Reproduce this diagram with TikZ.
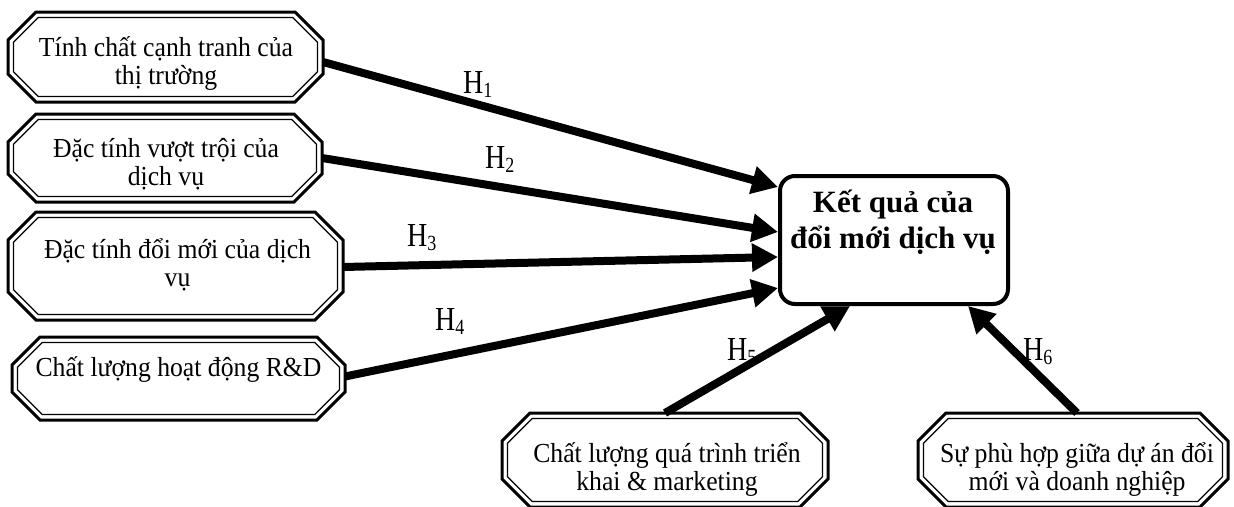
\documentclass[tikz,border=0pt]{standalone}
\usepackage{fontspec}
\setmainfont{Liberation Serif}
\usepackage{graphicx}
\usetikzlibrary{calc,arrows.meta}

% #1 node, #2 inset, #3 cut, #4 style
\newcommand\octagon[4]{%
  \draw[#4] ($(#1.north west)+(#2+#3,#2)$) -- ($(#1.north east)+(-#2-#3,#2)$)
    -- ($(#1.north east)+(-#2,#2+#3)$) -- ($(#1.south east)+(-#2,-#2-#3)$)
    -- ($(#1.south east)+(-#2-#3,-#2)$) -- ($(#1.south west)+(#2+#3,-#2)$)
    -- ($(#1.south west)+(#2,-#2-#3)$) -- ($(#1.north west)+(#2,#2+#3)$) -- cycle;}
\newcommand\Hlab[1]{\scalebox{1}[1.2]{\fontsize{28}{30}\selectfont H\raisebox{-4pt}{\fontsize{18}{20}\selectfont #1}}}
\newcommand\txtlines[1]{\scalebox{1}[1.07]{\begin{tabular}{@{}c@{}}#1\end{tabular}}}
\newcommand\boldlines[1]{\begin{tabular}{@{}c@{}}#1\end{tabular}}

\tikzset{
  boxarea/.style={rectangle, inner sep=0pt, outer sep=0pt},
  boxtext/.style={inner sep=0pt, font=\fontsize{25.7}{26.2}\selectfont},
  octout/.style={line width=3pt},
  octin/.style={line width=1.3pt},
  result/.style={rectangle, draw, line width=4pt, rounded corners=15pt, inner sep=0pt},
  restext/.style={inner sep=0pt, font=\bfseries\fontsize{31}{36}\selectfont},
  hlab/.style={inner sep=0pt, anchor=base west},
  arr/.style={line width=8pt, -{Triangle[length=26pt,width=27pt]}}
}

\begin{document}
\begin{tikzpicture}[x=1pt,y=-1pt]
\useasboundingbox (0,0) rectangle (1234,506);
\fill[white] (0,0) rectangle (1234,506);
\clip (0,0) rectangle (1234,506);

% box areas
\node[boxarea, minimum width=315pt, minimum height=90pt] (b1) at (165.5,57) {};
\node[boxarea, minimum width=314pt, minimum height=88pt] (b2) at (165,158) {};
\node[boxarea, minimum width=335pt, minimum height=108pt] (b3) at (175.5,266) {};
\node[boxarea, minimum width=333pt, minimum height=83pt] (b4) at (178.5,378.5) {};
\node[boxarea, minimum width=326pt, minimum height=94pt] (b5) at (665,460) {};
\node[boxarea, minimum width=310pt, minimum height=94pt] (b6) at (1073,460) {};

\foreach \n in {b1,b2,b3,b4,b5,b6}{
  \octagon{\n}{0}{28}{octout}
  \octagon{\n}{5.5}{24.8}{octin}
}

% texts
\node[boxtext] (t1) at (166,65) {\txtlines{Tính chất cạnh tranh của\\thị trường}};
\node[boxtext] (t2) at (166,166) {\txtlines{Đặc tính vượt trội của\\dịch vụ}};
\node[boxtext] (t3) at (177.5,266.5) {\txtlines{Đặc tính đổi mới của dịch\\vụ}};
\node[boxtext] (t4) at (178.5,371) {\txtlines{Chất lượng hoạt động R\&D}};
\node[boxtext] (t5) at (667,471) {\txtlines{Chất lượng quá trình triển\\khai \& marketing}};
\node[boxtext] (t6) at (1077,471) {\txtlines{Sự phù hợp giữa dự án đổi\\mới và doanh nghiệp}};

% result box
\node[result, minimum width=228pt, minimum height=128pt] (c) at (894,240) {};
\node[restext] (tc) at (893,222.8) {\boldlines{Kết quả của\\đổi mới dịch vụ}};

% labels
\node[hlab] (h1) at (463,93) {\Hlab{1}};
\node[hlab] (h2) at (485,168) {\Hlab{2}};
\node[hlab] (h3) at (407,246) {\Hlab{3}};
\node[hlab] (h4) at (435,330) {\Hlab{4}};
\node[hlab] (h5) at (727,360) {\Hlab{5}};
\node[hlab] (h6) at (1023,360) {\Hlab{6}};

% arrows
\draw[arr] ($(b1.east)+(0,5)$) -- ($(c.west)+(0,-53)$);
\draw[arr] (b2.east) -- ($(c.west)+(0,-8)$);
\draw[arr] ($(b3.east)+(0,1)$) -- ($(c.west)+(0,17)$);
\draw[arr] ($(b4.east)+(0,-2)$) -- ($(c.west)+(0,48)$);
\draw[arr] (b5.north) -- ($(c.south)+(-44,0)$);
\draw[arr] ($(b6.north)+(4,0)$) -- ($(c.south)+(74,0)$);
\end{tikzpicture}
\end{document}
